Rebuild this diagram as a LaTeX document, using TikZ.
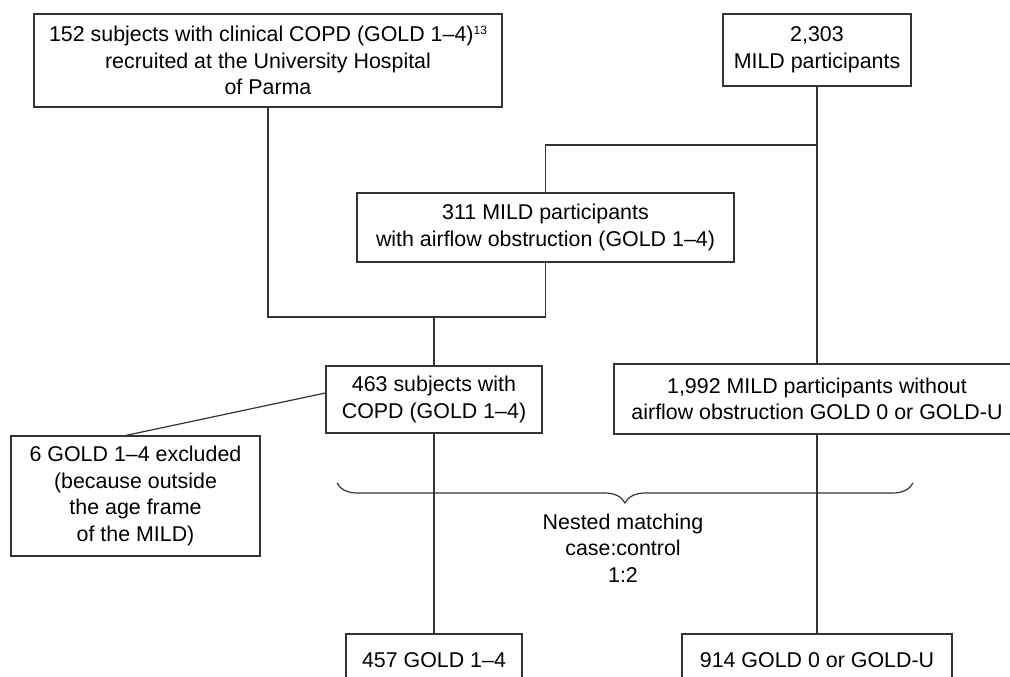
\documentclass[tikz,border=0pt]{standalone}
\usepackage{fontspec}
\setmainfont{Liberation Sans}
\usetikzlibrary{decorations.pathreplacing}

\begin{document}
\begin{tikzpicture}[x=1pt,y=1pt,
    line width=1.2pt, draw=black!80,
    box/.style={draw=black!80, align=center, inner sep=0pt,
      font=\fontsize{21.4}{26.5}\selectfont},
    txt/.style={align=center, inner sep=0pt,
      font=\fontsize{21.4}{26.5}\selectfont}]
      \useasboundingbox (0,0) rectangle (1010,677) ;
      \node[box,minimum width=468,minimum height=93] (clin) at (268,616.5)
        {152 subjects with clinical COPD (GOLD 1–4)%
         \raisebox{6.8pt}{\fontsize{12}{12}\selectfont 13}\\
         recruited at the University Hospital\\ of Parma} ;
      \node[box,minimum width=188,minimum height=72] (mild) at (817,627)
        {2,303\\ MILD participants} ;
      \node[box,minimum width=377,minimum height=69] (obst) at (545.5,449.5)
        {311 MILD participants\\ with airflow obstruction (GOLD 1–4)} ;
      \node[box,minimum width=216,minimum height=67] (copd) at (434,277.5)
        {463 subjects with\\ COPD (GOLD 1–4)} ;
      \node[box,minimum width=406,minimum height=70] (nobst) at (817,278)
        {1,992 MILD participants without\\ airflow obstruction GOLD 0 or GOLD-U} ;
      \node[box,minimum width=249,minimum height=120] (excl) at (135.5,181)
        {6 GOLD 1–4 excluded\\ (because outside\\ the age frame\\ of the MILD)} ;
      \node[box,minimum width=176,minimum height=52] (cases) at (434,17)
        {457 GOLD 1–4} ;
      \node[box,minimum width=270,minimum height=52] (ctrls) at (817,17)
        {914 GOLD 0 or GOLD-U} ;
      \node[txt] (match) at (623,129) {Nested matching\\ case:control\\ 1:2} ;
      % junctions
      \coordinate (split) at (817,532) ;
      \coordinate (merge) at (434,360) ;
      \draw[black!80] (mild) -- (nobst) ;
      \draw[black!80] (split) -| (obst.north) ;
      \draw[black!80] (clin.south) |- (merge) -| (obst.south) ;
      \draw[black!80] (merge) -- (copd.north) ;
      \draw[black!80] ([yshift=6.5]copd.west) -- ([xshift=-9.5]excl.north) ;
      \draw[black!80] (copd) -- (cases) ;
      \draw[black!80] (nobst) -- (ctrls) ;
      \draw[black!80,decorate,decoration={brace,mirror,amplitude=20pt}]
        (337,194) -- (913,194) ;
    \end{tikzpicture}
\end{document}
